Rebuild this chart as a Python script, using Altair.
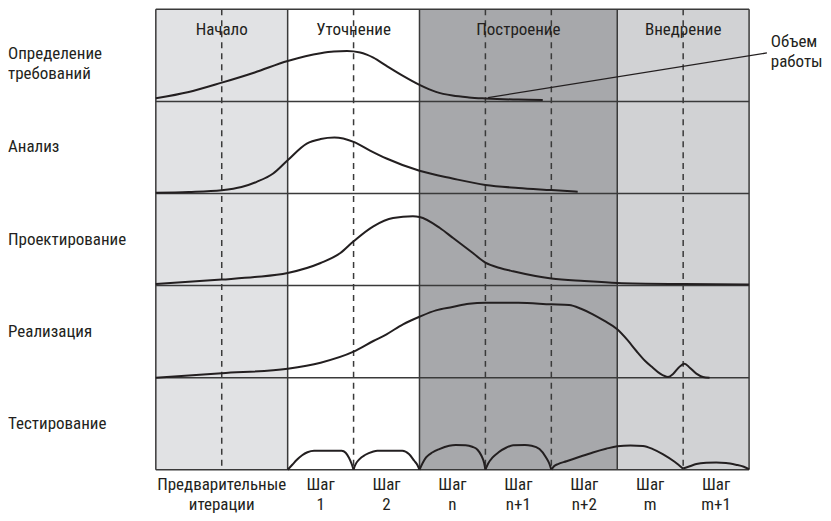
import altair as alt
import pandas as pd

# ---------------- data ----------------
row_names = ["Определение\nтребований", "Анализ", "Проектирование", "Реализация", "Тестирование"]
ROW_H = 92.2  # height of one discipline band, in the same units as the curves

phases = ["Начало", "Уточнение", "Построение", "Внедрение"]
phase_start = [0, 2, 4, 7]
phase_end = [2, 4, 7, 9]
phase_fill = ["#e1e2e4", "#ffffff", "#a7a8ab", "#d1d2d4"]

iteration_dashes = [1, 3, 5, 6, 8]
phase_bounds = [0, 2, 4, 7, 9]
iter_labels = ["Предварительные\nитерации", "Шаг\n1", "Шаг\n2", "Шаг\nn", "Шаг\nn+1",
               "Шаг\nn+2", "Шаг\nm", "Шаг\nm+1"]
iter_pos = [1, 2.5, 3.5, 4.5, 5.5, 6.5, 7.5, 8.5]

# curves: x positions (iteration units) and heights inside the band
req_x = [0, 0.5, 1, 1.5, 2, 2.5, 2.7, 2.9, 3.1, 3.2, 3.3, 3.5, 3.75, 4, 4.25, 4.5, 4.75, 5, 5.5, 5.87]
req_h = [3.2, 9.5, 18.8, 29, 40.5, 48.3, 50, 50.5, 49, 46.8, 43.8, 35.5, 25.5, 16.5, 9.5, 5.8, 4, 3, 1.8, 1.5]

ana_x = [0, 0.5, 1, 1.3, 1.53, 1.78, 2, 2.29, 2.5, 2.71, 3, 3.25, 3.5, 4, 4.5, 5, 5.5, 6, 6.4]
ana_h = [0.7, 1.5, 3.3, 6.5, 11.7, 20, 33.3, 50, 54.5, 56, 51.7, 43, 35, 22.7, 15, 8.5, 5.5, 3.4, 1.7]

des_x = [0, 1, 1.5, 2, 2.5, 2.8, 3, 3.3, 3.6, 3.9, 4, 4.31, 4.51, 4.81, 5.0, 5.22, 5.42, 6, 6.5, 7, 8, 9]
des_h = [1.6, 6, 8.5, 12.6, 22.6, 32.6, 44.3, 59.3, 67.6, 69.3, 68.6, 57.6, 47.6, 32.6, 23, 17.6, 14.3, 7, 4.5, 2.6, 1.5, 1]

imp_x = [0, 1, 2, 2.5, 3, 3.3, 3.5, 3.75, 4, 4.25, 4.5, 4.75, 5, 5.5, 6, 6.27, 6.45, 6.63, 6.8,
         7, 7.15, 7.29, 7.42, 7.54, 7.65, 7.77, 7.85, 7.93, 8.02, 8.1, 8.2, 8.3, 8.4]
imp_h = [0, 4.4, 9, 15, 26, 36.7, 43.4, 53.4, 61, 67.4, 70.7, 74, 75, 75, 73.4, 72.7, 69, 63.4, 57,
         48.4, 38, 26.7, 17, 10, 4, 0.7, 4, 10, 14, 10, 4, 0.7, 0]

test_arcs = [
    ([2.0, 2.07, 2.14, 2.22, 2.3, 2.4, 2.82, 2.88, 2.93, 2.97, 3.0],
     [0, 5, 10, 14.5, 17.5, 19, 19, 17, 12, 6, 0]),
    ([3.0, 3.02, 3.09, 3.18, 3.29, 3.36, 3.74, 3.84, 3.92, 3.97, 4.0],
     [0, 4, 10.7, 15, 18, 19, 19, 15.7, 9, 4.5, 0]),
    ([4.0, 4.05, 4.1, 4.2, 4.3, 4.45, 4.55, 4.7, 4.8, 4.88, 4.94, 4.98, 5.0],
     [0, 7, 12.3, 17.5, 20.7, 24, 24.7, 24.5, 23, 20, 14, 7, 0]),
    ([5.0, 5.04, 5.11, 5.2, 5.32, 5.42, 5.6, 5.7, 5.82, 5.92, 5.97, 6.0],
     [0, 6, 12.3, 17.5, 22.3, 24.5, 24.7, 24, 20.7, 12.3, 6, 0]),
    ([6.0, 6.04, 6.1, 6.23, 6.43, 6.63, 6.83, 7.0, 7.2, 7.39, 7.54, 7.69, 7.87, 8.0],
     [0, 3.5, 5.7, 8.5, 13, 17.3, 21, 23.5, 24.3, 23.8, 20.7, 15.7, 8, 1]),
    ([8.0, 8.1, 8.2, 8.35, 8.5, 8.65, 8.8, 8.92, 9.0],
     [1.3, 3.5, 5.7, 7, 7.3, 6.8, 5, 3, 0.7]),
]

pointer_x = [5.04, 9.27]
pointer_h = [3.8, 48.5]
note_text = "Объем\nработы"
note_x = 9.33

# ---------------- build tables ----------------
def base(r):
    return (len(row_names) - 1 - r) * ROW_H

curve_rows = []
def add(r, name, xs, hs):
    for xv, hv in zip(xs, hs):
        curve_rows.append({"x": xv, "y": base(r) + hv, "series": name})

add(0, "req", req_x, req_h)
add(1, "ana", ana_x, ana_h)
add(2, "des", des_x, des_h)
add(3, "imp", imp_x, imp_h)
for i, (xs_, hs_) in enumerate(test_arcs):
    add(4, f"test{i}", xs_, hs_)
curves = pd.DataFrame(curve_rows)

phase_df = pd.DataFrame({"phase": phases, "start": phase_start, "end": phase_end,
                         "fill": phase_fill,
                         "mid": [(a + b) / 2 for a, b in zip(phase_start, phase_end)]})
hlines = pd.DataFrame({"y": [k * ROW_H for k in range(len(row_names) + 1)]})
vlines = pd.DataFrame({"x": phase_bounds})
dashes = pd.DataFrame({"x": iteration_dashes})
iters = pd.DataFrame({"label": iter_labels, "x": iter_pos})
rows_single = pd.DataFrame({"label": row_names[1:],
                            "y": [base(r) + ROW_H / 2 for r in range(1, len(row_names))]})
rows_first = pd.DataFrame({"label": [row_names[0]], "y": [base(0) + ROW_H / 2]})
pointer = pd.DataFrame({"x": pointer_x, "y": [base(0) + h for h in pointer_h]})
note = pd.DataFrame({"label": [note_text], "x": [note_x]})

W, H = 594, 461
FONT = "Liberation Sans Narrow, Roboto Condensed, DejaVu Sans Condensed, Liberation Sans, sans-serif"
FS = 17
INK = "#231f20"

xs = alt.Scale(domain=[0, 9], nice=False, zero=False)
ys = alt.Scale(domain=[0, ROW_H * len(row_names)], nice=False, zero=False)

bg = alt.Chart(phase_df).mark_rect().encode(
    x=alt.X("start:Q", scale=xs, axis=None),
    x2="end:Q",
    color=alt.Color("fill:N", scale=None),
)

hrule = alt.Chart(hlines).mark_rule(color="#3a3a3a", strokeWidth=1.5).encode(
    y=alt.Y("y:Q", scale=ys, axis=None))
vrule = alt.Chart(vlines).mark_rule(color="#3a3a3a", strokeWidth=1.5).encode(
    x=alt.X("x:Q", scale=xs, axis=None))
drule = alt.Chart(dashes).mark_rule(color="#3a3a3a", strokeWidth=1.5, strokeDash=[6, 5]).encode(
    x=alt.X("x:Q", scale=xs, axis=None))

lines = alt.Chart(curves).mark_line(color=INK, strokeWidth=2, interpolate="monotone").encode(
    x=alt.X("x:Q", scale=xs, axis=None),
    y=alt.Y("y:Q", scale=ys, axis=None),
    detail="series:N",
)

ptr = alt.Chart(pointer).mark_line(color=INK, strokeWidth=1.3).encode(
    x=alt.X("x:Q", scale=xs, axis=None),
    y=alt.Y("y:Q", scale=ys, axis=None),
)

phase_txt = alt.Chart(phase_df).mark_text(font=FONT, fontSize=FS, color=INK,
                                          baseline="alphabetic", align="center").encode(
    x=alt.X("mid:Q", scale=xs, axis=None),
    y=alt.value(26),
    text="phase:N",
)

iter_txt = alt.Chart(iters).mark_text(font=FONT, fontSize=FS, color=INK,
                                      baseline="alphabetic", align="center",
                                      lineBreak="\n", lineHeight=20).encode(
    x=alt.X("x:Q", scale=xs, axis=None),
    y=alt.value(H + 20),
    text="label:N",
)

row_txt = alt.Chart(rows_single).mark_text(font=FONT, fontSize=FS, color=INK,
                                           baseline="middle", align="left").encode(
    x=alt.value(-148),
    y=alt.Y("y:Q", scale=ys, axis=None),
    text="label:N",
)
row_txt0 = alt.Chart(rows_first).mark_text(font=FONT, fontSize=FS, color=INK,
                                           baseline="middle", align="left",
                                           lineBreak="\n", lineHeight=20, dy=-1).encode(
    x=alt.value(-148),
    y=alt.Y("y:Q", scale=ys, axis=None),
    text="label:N",
)

note_txt = alt.Chart(note).mark_text(font=FONT, fontSize=FS, color=INK,
                                     baseline="alphabetic", align="left",
                                     lineBreak="\n", lineHeight=20).encode(
    x=alt.X("x:Q", scale=xs, axis=None),
    y=alt.value(38),
    text="label:N",
)

chart = alt.layer(
    bg, drule, hrule, vrule, lines, ptr, phase_txt, iter_txt, row_txt, row_txt0, note_txt
).properties(
    width=W, height=H,
    padding={"left": 0, "top": 0, "right": 0, "bottom": 0},
).configure_view(stroke=None)

chart.save("out.html", embed_options={"renderer": "svg", "actions": False})
